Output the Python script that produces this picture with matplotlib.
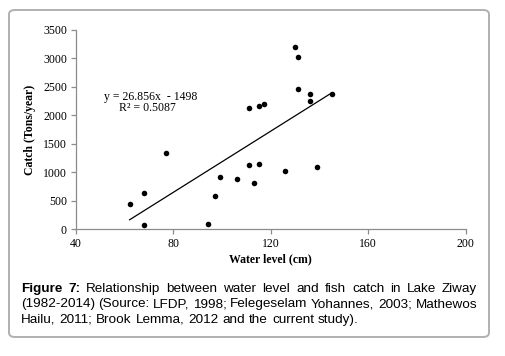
"""
Water level vs fish catch scatter (Lake Ziway) with linear trendline.
"""
import matplotlib
matplotlib.use("Agg")
import matplotlib.pyplot as plt
import numpy as np
from matplotlib.patches import FancyBboxPatch

# ── Data ──────────────────────────────────────────────────────────────────────
water_level = [62, 68, 68, 77, 94, 97, 99, 106, 111, 113, 115, 126, 139,
               130, 131, 131, 136, 136, 145, 111, 115, 117]
catch = [445, 630, 75, 1345, 95, 585, 920, 885, 1125, 810, 1155, 1025, 1095,
         3195, 3020, 2470, 2370, 2255, 2370, 2125, 2165, 2195]
slope, intercept = 26.856, -1498
r2 = 0.5087
x_ticks = [40, 80, 120, 160, 200]
y_ticks = [0, 500, 1000, 1500, 2000, 2500, 3000, 3500]

caption_lines = [
    [("Figure", "bold"), ("7:", "bold"), ("Relationship", "normal"), ("between", "normal"),
     ("water", "normal"), ("level", "normal"), ("and", "normal"), ("fish", "normal"),
     ("catch", "normal"), ("in", "normal"), ("Lake", "normal"), ("Ziway", "normal")],
    [("(1982-2014)", "normal"), ("(Source:", "normal"), ("LFDP,", "normal"), ("1998;", "normal"),
     ("Felegeselam", "normal"), ("Yohannes,", "normal"), ("2003;", "normal"), ("Mathewos", "normal")],
    [("Hailu,", "normal"), ("2011;", "normal"), ("Brook", "normal"), ("Lemma,", "normal"),
     ("2012", "normal"), ("and", "normal"), ("the", "normal"), ("current", "normal"),
     ("study).", "normal")],
]

W, H = 505, 356
fig = plt.figure(figsize=(W / 100, H / 100), dpi=100)
fig.patch.set_facecolor("white")

# ── Rounded frame ─────────────────────────────────────────────────────────────
frame = FancyBboxPatch((9 / W, (H - 337) / H), 480 / W, 327 / H,
                       boxstyle="round,pad=0,rounding_size=0.012",
                       transform=fig.transFigure, facecolor="none",
                       edgecolor="#b0b0b0", linewidth=1.4, zorder=-1)
fig.patches.append(frame)

# ── Axes ──────────────────────────────────────────────────────────────────────
ax = fig.add_axes([76 / W, (H - 229.3) / H, 389.7 / W, 199.3 / H])
ax.set_facecolor("none")
ax.set_xlim(40, 200)
ax.set_ylim(0, 3500)
for s in ("top", "right"):
    ax.spines[s].set_visible(False)
for s in ("left", "bottom"):
    ax.spines[s].set_color("#8c8c8c")
    ax.spines[s].set_linewidth(0.9)
ax.set_xticks(x_ticks)
ax.set_yticks(y_ticks)
ax.tick_params(colors="#8c8c8c", length=3.5, width=0.9, labelcolor="black",
               labelsize=8.5, pad=3)
for lab in ax.get_xticklabels() + ax.get_yticklabels():
    lab.set_family("Liberation Serif")

ax.scatter(water_level, catch, s=16, color="black", zorder=3, linewidths=0)

xs = np.array([min(water_level), max(water_level)])
ax.plot(xs, slope * xs + intercept, color="black", lw=0.9, zorder=2)

ax.text(70.6, 2329, f"y = {slope}x  - {abs(intercept)}", ha="center", va="center",
        fontsize=8.5, family="Liberation Serif")
ax.text(69.4, 2125, f"R² = {r2}", ha="center", va="center",
        fontsize=8.5, family="Liberation Serif")

ax.text(-0.119, 0.5, "Catch (Tons/year)", transform=ax.transAxes, rotation=90,
        ha="center", va="center", fontsize=8.5, fontweight="bold",
        family="Liberation Serif")
ax.text(0.5, -0.152, "Water level (cm)", transform=ax.transAxes,
        ha="center", va="center", fontsize=8.5, fontweight="bold",
        family="Liberation Serif")

# ── Caption (justified) ───────────────────────────────────────────────────────
renderer = fig.canvas.get_renderer()
x_left, x_right = 20.7, 477.0
line_y = [289, 304.5, 320]
cap_fs = 9.7
for li, (words, yy) in enumerate(zip(caption_lines, line_y)):
    texts = [fig.text(0, 1 - yy / H, w, fontsize=cap_fs, fontweight=wt,
                      family="Liberation Sans", ha="left", va="center")
             for w, wt in words]
    widths = [t.get_window_extent(renderer).width for t in texts]
    if li < len(caption_lines) - 1:
        gap = (x_right - x_left - sum(widths)) / (len(words) - 1)
    else:
        gap = 4.0
    x = x_left
    for t, w in zip(texts, widths):
        t.set_x(x / W)
        x += w + gap

fig.savefig("out.png", dpi=100, facecolor="white")
